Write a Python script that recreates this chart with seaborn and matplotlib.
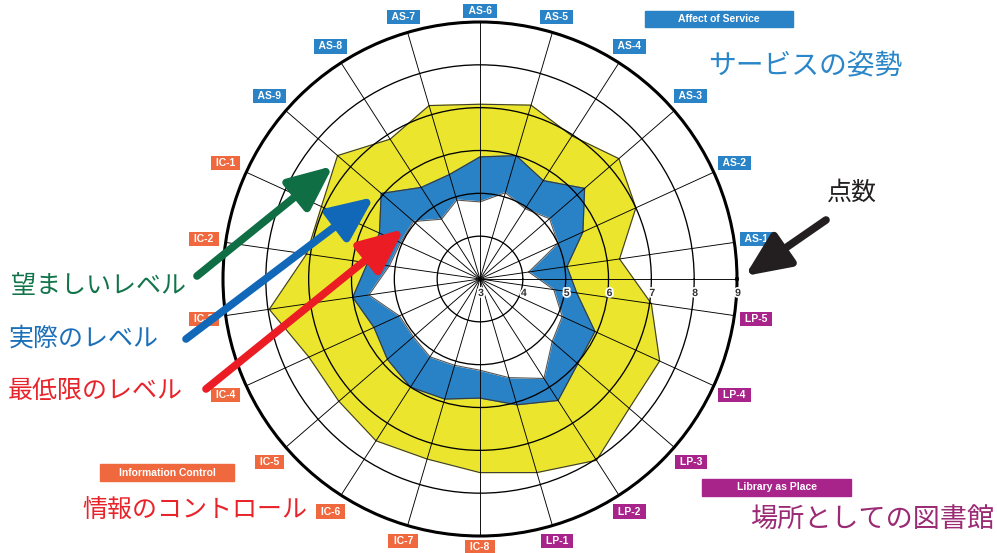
import numpy as np
import pandas as pd
import matplotlib
matplotlib.use('Agg')
import matplotlib.pyplot as plt
import matplotlib.patheffects as pe
from matplotlib.patches import Rectangle
import seaborn as sns

sns.set_theme(style='white')
plt.rcParams['font.family'] = ['Liberation Sans', 'Noto Sans CJK JP', 'DejaVu Sans']

# ====================
#  DATA
# ====================

items = ['AS-1', 'AS-2', 'AS-3', 'AS-4', 'AS-5', 'AS-6', 'AS-7', 'AS-8', 'AS-9',
         'IC-1', 'IC-2', 'IC-3', 'IC-4', 'IC-5', 'IC-6', 'IC-7', 'IC-8',
         'LP-1', 'LP-2', 'LP-3', 'LP-4', 'LP-5']
groups = ['AS'] * 9 + ['IC'] * 8 + ['LP'] * 5

minimum = [4.15, 5.00, 5.15, 4.95, 5.10, 4.80, 4.92, 4.66, 5.05,
           5.04, 5.14, 5.62, 5.07, 5.06, 5.16, 5.10, 5.13,
           5.40, 5.76, 5.23, 5.11, 4.74]
perceived = [5.05, 5.64, 6.23, 5.73, 6.00, 5.85, 5.54, 5.54, 6.05,
             5.58, 5.65, 6.00, 5.72, 5.86, 6.00, 5.92, 5.78,
             6.06, 6.37, 6.02, 5.95, 5.28]
desired = [6.29, 7.00, 7.29, 6.97, 7.23, 7.08, 7.22, 6.88, 7.40,
           7.07, 7.09, 7.97, 7.39, 7.36, 7.49, 7.38, 7.52,
           7.71, 8.03, 7.61, 7.61, 7.04]

scale_ticks = [3, 4, 5, 6, 7, 8, 9]

group_colors = {'AS': '#2a83c6', 'IC': '#f0683e', 'LP': '#a8248b'}
group_titles = {'AS': 'Affect of Service', 'IC': 'Information Control', 'LP': 'Library as Place'}

YELLOW = '#ebe62d'
BLUE = '#2a82c6'


def build_frame():
    theta = np.deg2rad(360 / len(items) * (np.arange(len(items)) + 0.5))
    df = pd.DataFrame({'item': items, 'group': groups, 'theta': theta,
                       'minimum': minimum, 'perceived': perceived, 'desired': desired})
    closed = pd.concat([df, df.iloc[[0]].assign(theta=theta[0] + 2 * np.pi)], ignore_index=True)
    return df, closed


def main():
    df, closed = build_frame()

    fig = plt.figure(figsize=(9.97, 5.53), dpi=100)
    ax = fig.add_axes([223 / 997, 17 / 553, 514 / 997, 514 / 553], projection='polar')
    ax.set_facecolor('white')

    # layered bands: desired (yellow) > perceived (blue) > minimum (white)
    ax.fill(closed['theta'], closed['desired'], color=YELLOW, zorder=1)
    ax.fill(closed['theta'], closed['perceived'], color=BLUE, zorder=1.1)
    ax.fill(closed['theta'], closed['minimum'], color='white', zorder=1.2)

    long = closed.melt(id_vars=['theta'], value_vars=['minimum', 'perceived', 'desired'],
                       var_name='level', value_name='score')
    sns.lineplot(data=long, x='theta', y='score', hue='level', units='level',
                 estimator=None, sort=False, legend=False, ax=ax, lw=0.8,
                 palette={'minimum': '#555555', 'perceived': '#3a3a3a', 'desired': '#3a3a3a'},
                 zorder=1.5)

    ax.set_ylim(scale_ticks[0], scale_ticks[-1])
    ax.set_yticks(scale_ticks[1:-1])
    ax.set_yticklabels([])
    ax.set_xticks(np.concatenate([[0.0], df['theta'].values]))
    ax.set_xticklabels([])
    ax.set_xlabel('')
    ax.set_ylabel('')
    ax.set_axisbelow(False)
    ax.xaxis.grid(True, color='black', lw=0.65)
    ax.yaxis.grid(True, color='black', lw=0.95)
    ax.spines['polar'].set_linewidth(2.2)
    ax.spines['polar'].set_color('black')

    # scale numbers along the 0 degree line
    for v in scale_ticks:
        ax.annotate(str(v), xy=(0, v), xytext=(1, -14), textcoords='offset pixels',
                    ha='center', va='center', fontsize=7.5, fontweight='bold', color='#333333',
                    path_effects=[pe.withStroke(linewidth=2.5, foreground='white')], zorder=5)

    # item labels round the rim
    for _, row in df.iterrows():
        c, s = np.cos(row['theta']), np.sin(row['theta'])
        d = 3 + 18 * abs(c) + 8 * abs(s)
        ax.annotate(f' {row["item"]} ', xy=(row['theta'], scale_ticks[-1]), xytext=(d * c, d * s),
                    textcoords='offset pixels', ha='center', va='center',
                    fontsize=7.5, fontweight='bold', color='white', annotation_clip=False,
                    bbox=dict(boxstyle='square,pad=0.2', fc=group_colors[row['group']], ec='none'))

    # overlay in image pixels for headers, captions and arrows
    ov = fig.add_axes([0, 0, 1, 1])
    ov.set_xlim(0, 997)
    ov.set_ylim(553, 0)
    ov.axis('off')
    ov.patch.set_alpha(0)

    header_boxes = {'AS': (645, 11, 148, 16), 'IC': (100, 464, 134, 17), 'LP': (702, 479, 149, 17)}
    for g, (x, y, w, h) in header_boxes.items():
        ov.add_patch(Rectangle((x, y), w, h, color=group_colors[g]))
        ov.text(x + w / 2, y + h / 2, group_titles[g], ha='center', va='center',
                fontsize=7.5, fontweight='bold', color='white')

    ov.text(805, 67, 'サービスの姿勢', ha='center', va='center', fontsize=20, color='#2a86c8')
    ov.text(750, 521, '場所としての図書館', ha='left', va='center', fontsize=19.5, color='#9b2a74')
    ov.text(82, 510, '情報のコントロール', ha='left', va='center', fontsize=18, color='#e8232a')
    ov.text(852, 193, '点数', ha='center', va='center', fontsize=18, color='#231f20')
    ov.text(11, 286, '望ましいレベル', ha='left', va='center', fontsize=18, color='#12744a')
    ov.text(9, 339, '実際のレベル', ha='left', va='center', fontsize=18, color='#1a6fb8')
    ov.text(8, 391, '最低限のレベル', ha='left', va='center', fontsize=18, color='#e8232a')

    arrows = [((197, 276), (333, 166), '#0f6e44'),
              ((186, 339), (374, 197), '#1268b8'),
              ((206, 389), (404, 229), '#ec1c24'),
              ((826, 220), (745, 276), '#231f20')]
    for start, tip, col in arrows:
        ov.annotate('', xy=tip, xytext=start,
                    arrowprops=dict(arrowstyle='-|>,head_length=1.8,head_width=0.8',
                                    mutation_scale=15, lw=5.5, color=col,
                                    shrinkA=0, shrinkB=0))

    fig.savefig('out.png', dpi=100, facecolor='white')
    plt.close(fig)


if __name__ == "__main__":
    main()
